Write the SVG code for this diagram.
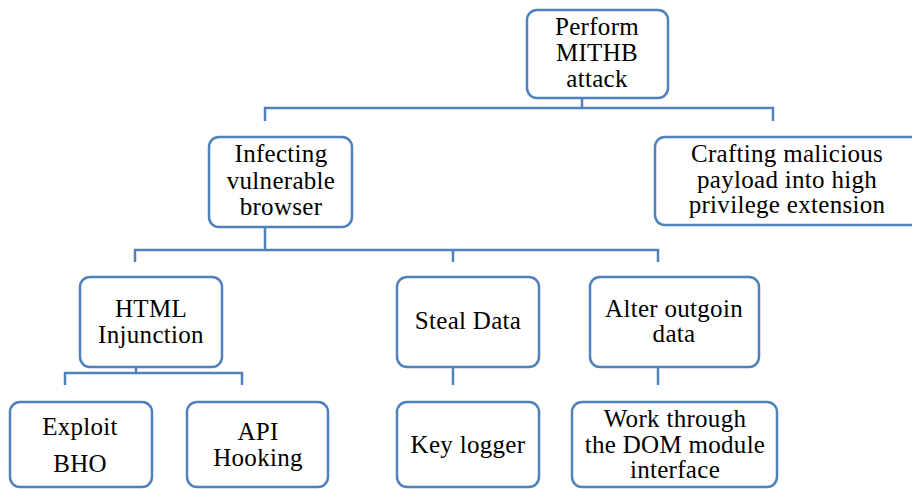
<svg xmlns="http://www.w3.org/2000/svg" width="912" height="489" viewBox="0 0 912 489">
  <style>
    .box { fill: #ffffff; stroke: #4f81bd; stroke-width: 2.5; }
    .link { fill: none; stroke: #4f81bd; stroke-width: 2.5; }
    .label { font-family: "Liberation Serif", "DejaVu Serif", serif; font-size: 25px; fill: #000000; text-anchor: middle; letter-spacing: 0.3px; }
  </style>
  <rect width="912" height="489" fill="#ffffff"/>

  <!-- tree connectors -->
  <g id="connectors">
    <path class="link" d="M582,98 V108 M265,121 V108 H773 V121"/>
    <path class="link" d="M265,227 V250 M135,262 V250 H658 V262 M453,250 V262"/>
    <path class="link" d="M136,367 V373 M65,385 V373 H242 V385"/>
    <path class="link" d="M453,367 V385"/>
    <path class="link" d="M658,367 V385"/>
  </g>

  <g id="root">
    <rect class="box" x="527" y="10" width="141" height="88" rx="10"/>
    <text class="label" x="597" y="35">Perform</text>
    <text class="label" x="597" y="61">MITHB</text>
    <text class="label" x="597" y="87">attack</text>
  </g>

  <g id="infecting">
    <rect class="box" x="209" y="137" width="143" height="90" rx="10"/>
    <text class="label" x="281" y="162">Infecting</text>
    <text class="label" x="281" y="189">vulnerable</text>
    <text class="label" x="281" y="215">browser</text>
  </g>

  <g id="crafting">
    <rect class="box" x="655" y="137" width="270" height="88" rx="10"/>
    <text class="label" x="787" y="162">Crafting malicious</text>
    <text class="label" x="787" y="188">payload into high</text>
    <text class="label" x="787" y="213">privilege extension</text>
  </g>

  <g id="html-injunction">
    <rect class="box" x="80" y="277" width="142" height="90" rx="10"/>
    <text class="label" x="151" y="317">HTML</text>
    <text class="label" x="151" y="343">Injunction</text>
  </g>

  <g id="steal-data">
    <rect class="box" x="397" y="277" width="142" height="90" rx="10"/>
    <text class="label" x="468" y="329">Steal Data</text>
  </g>

  <g id="alter-outgoing">
    <rect class="box" x="590" y="277" width="169" height="90" rx="10"/>
    <text class="label" x="674" y="317">Alter outgoin</text>
    <text class="label" x="674" y="342">data</text>
  </g>

  <g id="exploit-bho">
    <rect class="box" x="10" y="402" width="142" height="85" rx="10"/>
    <text class="label" x="80" y="435">Exploit</text>
    <text class="label" x="80" y="472">BHO</text>
  </g>

  <g id="api-hooking">
    <rect class="box" x="187" y="402" width="141" height="85" rx="10"/>
    <text class="label" x="258" y="440">API</text>
    <text class="label" x="258" y="466">Hooking</text>
  </g>

  <g id="key-logger">
    <rect class="box" x="397" y="402" width="142" height="85" rx="10"/>
    <text class="label" x="468" y="453">Key logger</text>
  </g>

  <g id="dom-module">
    <rect class="box" x="572" y="402" width="205" height="85" rx="10"/>
    <text class="label" x="675" y="427">Work through</text>
    <text class="label" x="675" y="453">the DOM module</text>
    <text class="label" x="675" y="478">interface</text>
  </g>
</svg>
